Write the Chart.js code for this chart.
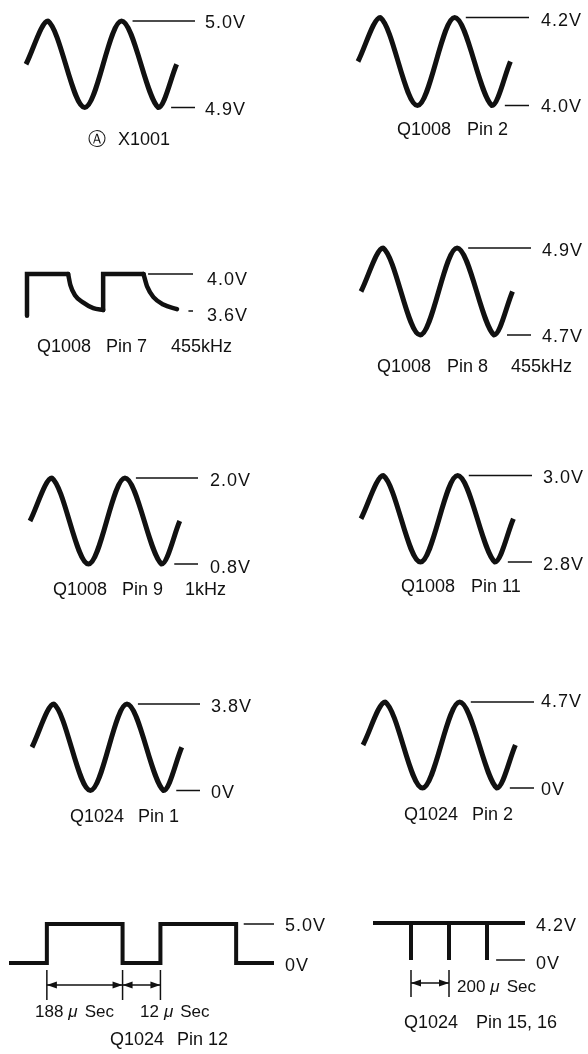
<!DOCTYPE html>
<html>
<head>
<meta charset="utf-8">
<script src="https://cdn.jsdelivr.net/npm/chart.js"></script>
<style>
  html, body { margin: 0; padding: 0; background: #fff; }
  #page { position: relative; width: 588px; height: 1054px; overflow: hidden; }
  #page canvas { position: absolute; left: 0; top: 0; }
</style>
</head>
<body>
<div id="page"></div>
<script>
// ---------- sine traces: start, peak, trough, peak, trough, end ----------
// time in quarter-periods
const sineT = [0, 1.2, 3.2, 5.2, 7.2, 8.2];
const topRefT = [5.8, 9.2];
const lowRefT = [7.9, 9.2];

const x1001V = [4.95, 5.0, 4.9, 5.0, 4.9, 4.95];
const q1008p2V = [4.1, 4.2, 4.0, 4.2, 4.0, 4.1];
const q1008p8V = [4.8, 4.9, 4.7, 4.9, 4.7, 4.8];
const q1008p9V = [1.4, 2.0, 0.8, 2.0, 0.8, 1.4];
const q1008p11V = [2.9, 3.0, 2.8, 3.0, 2.8, 2.9];
const q1024p1V = [1.9, 3.8, 0, 3.8, 0, 1.9];
const q1024p2V = [2.35, 4.7, 0, 4.7, 0, 2.35];

// ---------- Q1008 pin 7, 455kHz ----------
const q1008p7T = [0, 0, 5.4, 5.7, 6.3, 7.4, 8.7, 10, 10, 15.3, 15.8, 16.6, 17.9, 19.7];
const q1008p7V = [3.55, 4.0, 4.0, 3.88, 3.77, 3.69, 3.63, 3.61, 4.0, 4.0, 3.86, 3.75, 3.67, 3.62];
const q1008p7RefT = [15.9, 21.8];
const q1008p7DashT = [21.2, 21.8];

// ---------- Q1024 pin 12 ----------
const q1024p12T = [0, 1, 1, 3, 3, 4, 4, 6, 6, 7];
const q1024p12V = [0, 0, 5, 5, 0, 0, 5, 5, 0, 0];
const q1024p12RefT = [6.2, 7];
const q1024p12Marks = [1, 3, 4];
const q1024p12Spans = ["188", "12"];

// ---------- Q1024 pin 15, 16 ----------
const q1024p15T = [0, 1, 1, 1, 2, 2, 2, 3, 3, 3, 4];
const q1024p15V = [4.2, 4.2, 0, 4.2, 4.2, 0, 4.2, 4.2, 0, 4.2, 4.2];
const q1024p15RefT = [3.24, 4];
const q1024p15Marks = [1, 2];
const q1024p15Spans = ["200"];

const FONT = '"Liberation Sans", Arial, "DejaVu Sans", sans-serif';
const INK = "#111";

const panels = [
  { t: sineT, v: x1001V, smooth: true, refs: [[topRefT, 5.0], [lowRefT, 4.9]],
    hi: 5.0, lo: 4.9, levels: ["5.0V", "4.9V"], area: [26, 21, 195, 107.5], xMax: 9.2,
    labelX: 205, labelDy: [2, 3], caption: [["Ⓐ", 88], ["X1001", 118]], captionY: 140 },
  { t: sineT, v: q1008p2V, smooth: true, refs: [[topRefT, 4.2], [lowRefT, 4.0]],
    hi: 4.2, lo: 4.0, levels: ["4.2V", "4.0V"], area: [358, 17.5, 529, 105.5], xMax: 9.2,
    labelX: 541, labelDy: [4, 2], caption: [["Q1008", 397], ["Pin 2", 467]], captionY: 130 },
  // runs: [from index, to index, curved]
  { t: q1008p7T, v: q1008p7V, width: 4.5, runs: [[0, 2, false], [2, 7, true], [7, 9, false], [9, 13, true]],
    refs: [[q1008p7RefT, 4.0], [q1008p7DashT, 3.6]],
    hi: 4.0, lo: 3.6, levels: ["4.0V", "3.6V"], area: [27, 274, 193, 311], xMax: 21.8,
    labelX: 207, labelDy: [6, 5], caption: [["Q1008", 37], ["Pin 7", 106], ["455kHz", 171]], captionY: 347 },
  { t: sineT, v: q1008p8V, smooth: true, refs: [[topRefT, 4.9], [lowRefT, 4.7]],
    hi: 4.9, lo: 4.7, levels: ["4.9V", "4.7V"], area: [361, 248, 531, 335], xMax: 9.2,
    labelX: 542, labelDy: [3, 2], caption: [["Q1008", 377], ["Pin 8", 447], ["455kHz", 511]], captionY: 367 },
  { t: sineT, v: q1008p9V, smooth: true, refs: [[topRefT, 2.0], [lowRefT, 0.8]],
    hi: 2.0, lo: 0.8, levels: ["2.0V", "0.8V"], area: [30, 478, 198, 564], xMax: 9.2,
    labelX: 210, labelDy: [3, 4], caption: [["Q1008", 53], ["Pin 9", 122], ["1kHz", 185]], captionY: 590 },
  { t: sineT, v: q1008p11V, smooth: true, refs: [[topRefT, 3.0], [lowRefT, 2.8]],
    hi: 3.0, lo: 2.8, levels: ["3.0V", "2.8V"], area: [361, 475.5, 532, 562], xMax: 9.2,
    labelX: 543, labelDy: [3, 3], caption: [["Q1008", 401], ["Pin 11", 471]], captionY: 587 },
  { t: sineT, v: q1024p1V, smooth: true, refs: [[topRefT, 3.8], [lowRefT, 0]],
    hi: 3.8, lo: 0, levels: ["3.8V", "0V"], area: [32, 704, 200, 790.5], xMax: 9.2,
    labelX: 211, labelDy: [3, 3], caption: [["Q1024", 70], ["Pin 1", 138]], captionY: 817 },
  { t: sineT, v: q1024p2V, smooth: true, refs: [[topRefT, 4.7], [lowRefT, 0]],
    hi: 4.7, lo: 0, levels: ["4.7V", "0V"], area: [363, 702, 534, 788], xMax: 9.2,
    labelX: 541, labelDy: [0, 2], caption: [["Q1024", 404], ["Pin 2", 472]], captionY: 815 },
  { t: q1024p12T, v: q1024p12V, width: 4, refs: [[q1024p12RefT, 5.0]],
    hi: 5.0, lo: 0, levels: ["5.0V", "0V"], area: [9, 924, 274, 963], xMax: 7,
    labelX: 285, labelDy: [2, 3], caption: [["Q1024", 110], ["Pin 12", 177]], captionY: 1040,
    marks: q1024p12Marks, markY: [970, 1000, 985], spans: q1024p12Spans, spanPos: [[35, 1012], [140, 1012]] },
  { t: q1024p15T, v: q1024p15V, width: 4, refs: [[q1024p15RefT, 0]],
    hi: 4.2, lo: 0, levels: ["4.2V", "0V"], area: [373, 923, 525, 960], xMax: 4,
    labelX: 536, labelDy: [3, 4], caption: [["Q1024", 404], ["Pin 15, 16", 476]], captionY: 1023,
    marks: q1024p15Marks, markY: [970, 997, 983], spans: q1024p15Spans, spanPos: [[457, 987]] },
];

function arrowHead(ctx, x, y, dir) {
  ctx.beginPath();
  ctx.moveTo(x, y);
  ctx.lineTo(x + dir * 10, y - 3.5);
  ctx.lineTo(x + dir * 10, y + 3.5);
  ctx.closePath();
  ctx.fill();
}

function drawSpan(ctx, num, x, y) {
  ctx.font = "17px " + FONT;
  ctx.fillText(num, x, y);
  let cx = x + ctx.measureText(num).width + 5;
  ctx.font = "italic 17px " + FONT;
  ctx.fillText("μ", cx, y);
  cx += ctx.measureText("μ").width + 7;
  ctx.font = "17px " + FONT;
  ctx.fillText("Sec", cx, y);
}

function scribe(p) {
  return {
    id: "scribe",
    afterDatasetsDraw(chart) {
      const ctx = chart.ctx;
      const xs = chart.scales.x;
      const ys = chart.scales.y;
      ctx.save();
      ctx.fillStyle = INK;
      ctx.strokeStyle = INK;
      ctx.textBaseline = "middle";
      ctx.textAlign = "left";

      // level labels
      ctx.font = "18px " + FONT;
      ctx.letterSpacing = "1px";
      [p.hi, p.lo].forEach((v, i) => {
        ctx.fillText(p.levels[i], p.labelX, ys.getPixelForValue(v) + p.labelDy[i]);
      });
      ctx.letterSpacing = "0px";

      // caption
      p.caption.forEach(([s, x]) => ctx.fillText(s, x, p.captionY));

      // timing marks
      if (p.marks) {
        const px = p.marks.map(m => xs.getPixelForValue(m));
        const [ya, yb, yArr] = p.markY;
        ctx.lineWidth = 1.5;
        px.forEach(x => {
          ctx.beginPath();
          ctx.moveTo(x, ya);
          ctx.lineTo(x, yb);
          ctx.stroke();
        });
        for (let i = 0; i < px.length - 1; i++) {
          ctx.beginPath();
          ctx.moveTo(px[i], yArr);
          ctx.lineTo(px[i + 1], yArr);
          ctx.stroke();
          arrowHead(ctx, px[i], yArr, 1);
          arrowHead(ctx, px[i + 1], yArr, -1);
        }
        p.spans.forEach((num, i) => drawSpan(ctx, num, p.spanPos[i][0], p.spanPos[i][1]));
      }
      ctx.restore();
    },
  };
}

function traceSet(points, opts) {
  return Object.assign({
    data: points,
    borderColor: INK,
    borderCapStyle: "butt",
    pointRadius: 0,
    clip: false,
  }, opts);
}

const page = document.getElementById("page");

panels.forEach(p => {
  const cv = document.createElement("canvas");
  cv.width = 588;
  cv.height = 1054;
  page.appendChild(cv);

  const [x0, y0, x1, y1] = p.area;
  const pts = p.t.map((t, i) => ({ x: t, y: p.v[i] }));
  const datasets = [];

  if (p.runs) {
    p.runs.forEach(([a, b, curved]) => {
      datasets.push(traceSet(pts.slice(a, b + 1), {
        borderWidth: p.width,
        borderCapStyle: "round",
        borderJoinStyle: "miter",
        cubicInterpolationMode: curved ? "monotone" : "default",
        tension: 0,
      }));
    });
  } else {
    datasets.push(traceSet(pts, {
      borderWidth: p.width || 5,
      tension: p.smooth ? 0.33 : 0,
      borderJoinStyle: p.smooth ? "round" : "miter",
    }));
  }

  p.refs.forEach(([ts, v]) => {
    datasets.push(traceSet(ts.map(t => ({ x: t, y: v })), { borderWidth: 1.5 }));
  });

  new Chart(cv, {
    type: "line",
    data: { datasets },
    options: {
      responsive: false,
      animation: false,
      devicePixelRatio: 1,
      events: [],
      layout: { padding: { left: x0, top: y0, right: 588 - x1, bottom: 1054 - y1 } },
      scales: {
        x: { type: "linear", min: 0, max: p.xMax, display: false },
        y: { type: "linear", min: p.lo, max: p.hi, display: false },
      },
      plugins: { legend: { display: false }, tooltip: { enabled: false } },
    },
    plugins: [scribe(p)],
  });
});
</script>
</body>
</html>
